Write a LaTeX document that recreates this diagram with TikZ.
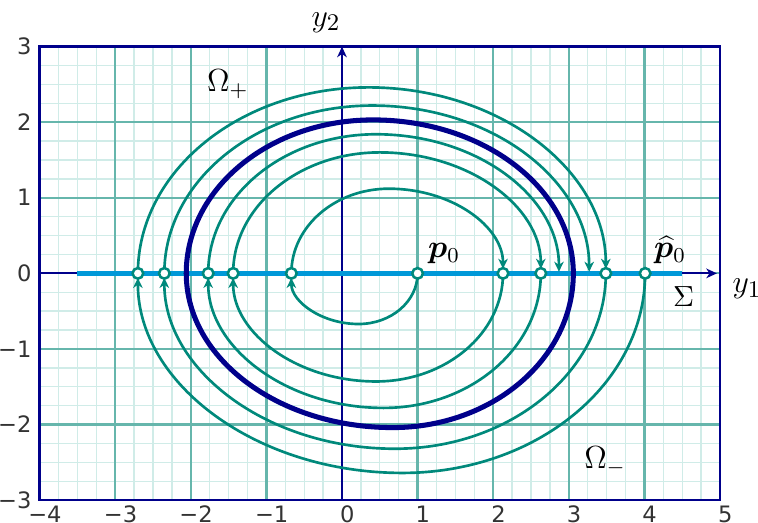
\documentclass[tikz,border=0pt]{standalone}
\usepackage{fontspec}
\newfontfamily\tickfont{DejaVu Sans}
\usepackage{bm}
\usetikzlibrary{arrows.meta}
\definecolor{trajc}{RGB}{0,137,123}
\definecolor{gridmaj}{RGB}{102,182,172}
\definecolor{gridmin}{RGB}{208,236,232}
\definecolor{navyc}{RGB}{0,0,139}
\definecolor{sigmac}{RGB}{0,152,216}
% skewed half-ellipse: #1 style, #2 start x, #3 end x, #4 peak x, #5 peak height
\newcommand\sarc[5]{%
  \pgfmathsetmacro\ka{#5*0.5523}%
  \pgfmathsetmacro\kb{#4-0.5523*(#4-(#2))}%
  \pgfmathsetmacro\kc{#4+0.5523*((#3)-#4)}%
  \draw[#1] (#2,0) .. controls (#2,\ka) and (\kb,#5) .. (#4,#5) .. controls (\kc,#5) and (#3,\ka) .. (#3,0);}
\begin{document}
\begin{tikzpicture}[x=1cm,y=1cm,
  traj/.style={draw=trajc, line width=1.0pt},
  trajarr/.style={traj, -{Stealth[length=3.8pt,width=3.6pt,inset=1.2pt]}, shorten >=1.7pt},
  trajend/.style={traj, -{Stealth[length=3.8pt,width=3.6pt,inset=1.2pt]}, shorten >=0.6pt},
  cycle/.style={draw=navyc, line width=1.9pt, line cap=round},
  dot/.style={circle, draw=trajc, fill=white, line width=0.95pt, inner sep=0pt, minimum size=4pt},
  ticklab/.style={font=\tickfont\fontsize{8.5}{10}\selectfont, text=black!80, inner sep=0pt},
  lab/.style={font=\fontsize{12}{14}\selectfont, inner sep=0pt},
  axis/.style={draw=navyc, line width=0.8pt, -{Stealth[length=4pt,width=3.6pt,inset=1.2pt]}}]
\useasboundingbox (-4.524,-3.298) rectangle (5.503,3.616);
% grid
\draw[gridmin, line width=0.5pt, step=0.25] (-4,-3) grid (5,3);
\draw[gridmaj, line width=0.85pt, step=1] (-4,-3) grid (5,3);
% axes
\coordinate (xl) at (-4,0);
\coordinate (xr) at (4.96,0);
\coordinate (yb) at (0,-3);
\coordinate (yt) at (0,3);
\draw[axis] (xl) -- (xr);
\draw[axis] (yb) -- (yt);
% Sigma
\coordinate (sl) at (-3.5,0);
\coordinate (sr) at (4.5,0);
\draw[sigmac, line width=1.9pt] (sl) -- (sr);
% crossing points
\coordinate (c1) at (-2.70,0);
\coordinate (c2) at (-2.35,0);
\coordinate (c3) at (-1.77,0);
\coordinate (c4) at (-1.44,0);
\coordinate (c5) at (-0.67,0);
\coordinate (p0) at (1.00,0);
\coordinate (c6) at (2.13,0);
\coordinate (c7) at (2.63,0);
\coordinate (c8) at (3.49,0);
\coordinate (q0) at (4.01,0);
% inner spiral from p0
\sarc{trajarr}{1.00}{-0.67}{0.22}{-0.67}
\sarc{trajarr}{-0.67}{2.13}{0.62}{1.12}
\sarc{trajarr}{2.13}{-1.44}{0.45}{-1.43}
\sarc{trajarr}{-1.44}{2.63}{0.50}{1.60}
\sarc{trajarr}{2.63}{-1.77}{0.55}{-1.78}
\sarc{trajend}{-1.77}{2.87}{0.45}{1.84}
% outer spiral from p0 hat
\sarc{trajarr}{4.01}{-2.70}{0.80}{-2.64}
\sarc{trajarr}{-2.70}{3.49}{0.35}{2.46}
\sarc{trajarr}{3.49}{-2.35}{0.70}{-2.32}
\sarc{trajend}{-2.35}{3.27}{0.40}{2.22}
% limit cycle
\sarc{cycle}{-2.06}{3.06}{0.41}{2.03}
\sarc{cycle}{3.06}{-2.06}{0.67}{-2.04}
% dots
\foreach \p in {c1,c2,c3,c4,c5,p0,c6,c7,c8,q0} \node[dot] at (\p) {};
% frame
\draw[navyc, line width=0.9pt] (-4,-3) rectangle (5,3);
% tick labels
\foreach \x/\t in {-4/−4,-3/−3,-2/−2,-1/−1,0/0,1/1,2/2,3/3,4/4,5/5}
  \node[ticklab] (tx\x) at (\x+0.07,-3.19) {\t};
\foreach \y/\t in {-3/−3,-2/−2,-1/−1,0/0,1/1,2/2,3/3}
  \node[ticklab, anchor=east] (ty\y) at (-4.1,\y) {\t};
% labels
\node[lab, font=\fontsize{13}{15}\selectfont] (ly2) at (-0.21,3.32) {$y_2$};
\node[lab, font=\fontsize{13}{15}\selectfont, anchor=west] (ly1) at (5.16,-0.2) {$y_1$};
\node[lab, font=\fontsize{11}{13}\selectfont] (lsig) at (4.52,-0.31) {$\Sigma$};
\node[lab] (lp0) at (1.35,0.26) {$\bm{p}_0$};
\node[lab] (lq0) at (4.34,0.31) {$\widehat{\bm{p}}_0$};
\node[lab] (lop) at (-1.51,2.50) {$\Omega_+$};
\node[lab] (lom) at (3.48,-2.49) {$\Omega_-$};
\end{tikzpicture}
\end{document}
